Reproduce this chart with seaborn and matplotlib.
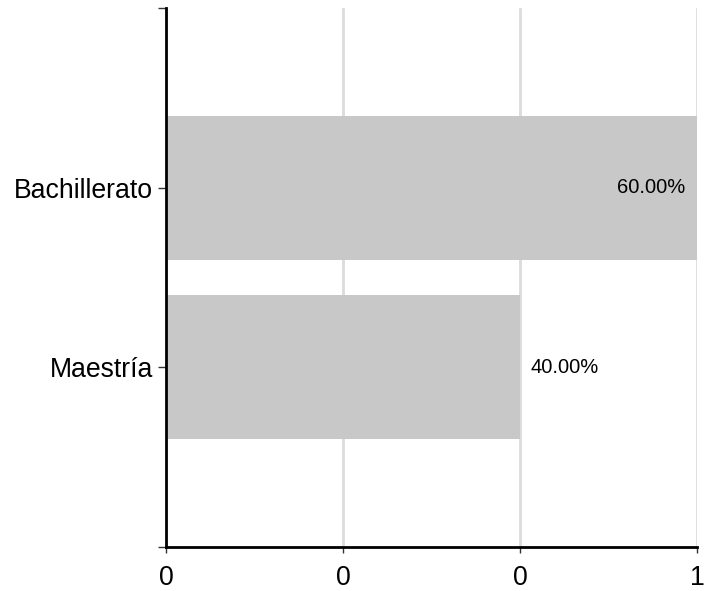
import matplotlib
matplotlib.use("Agg")
import matplotlib.pyplot as plt
import seaborn as sns
import pandas as pd

categories = ["Bachillerato", "Maestría"]
values = [0.60, 0.40]
value_labels = ["60.00%", "40.00%"]
x_ticks = [0.0, 0.2, 0.4, 0.6]
x_tick_labels = ["0", "0", "0", "1"]

df = pd.DataFrame({"categoria": categories, "valor": values})

sns.set_style("white")
plt.rcParams["font.family"] = ["Liberation Sans", "DejaVu Sans"]

fig = plt.figure(figsize=(7.08, 5.91), dpi=100)
ax = fig.add_axes([166 / 708, 44 / 591, (697 - 166) / 708, (547 - 8) / 591])

ax.set_axisbelow(True)
ax.xaxis.grid(True, color="#dcdcdc", linewidth=2)
ax.yaxis.grid(False)

sns.barplot(data=df, x="valor", y="categoria", orient="h", color="#c8c8c8",
            saturation=1, width=0.8, ax=ax, edgecolor="none")

ax.set_xlim(0, 0.6)
ax.set_ylim(len(categories), -1)
ax.set_xticks(x_ticks)
ax.set_xticklabels(x_tick_labels)
ax.set_yticks(range(len(categories)))
ax.set_yticklabels(categories)
ax.set_yticks([-1, len(categories)], minor=True)
ax.set_xlabel("")
ax.set_ylabel("")

for s in ["top", "right"]:
    ax.spines[s].set_visible(False)
for s in ["left", "bottom"]:
    ax.spines[s].set_color("black")
    ax.spines[s].set_linewidth(2)

ax.tick_params(axis="y", which="both", length=6, width=1, color="#333333",
               labelsize=19.2, pad=3, left=True, labelcolor="black")
ax.tick_params(axis="x", which="major", length=4, width=1, color="#333333",
               labelsize=19.2, pad=9, bottom=True, labelcolor="black")

xmax = ax.get_xlim()[1]
for patch, lab, v in zip(ax.patches, value_labels, values):
    yc = patch.get_y() + patch.get_height() / 2
    if v >= xmax * 0.9:
        ax.annotate(lab, (v, yc), xytext=(-8.5, 0), textcoords="offset points",
                    ha="right", va="center", fontsize=14.5, color="black")
    else:
        ax.annotate(lab, (v, yc), xytext=(7.5, 0), textcoords="offset points",
                    ha="left", va="center", fontsize=14.5, color="black")

fig.savefig("out.png", dpi=100)
